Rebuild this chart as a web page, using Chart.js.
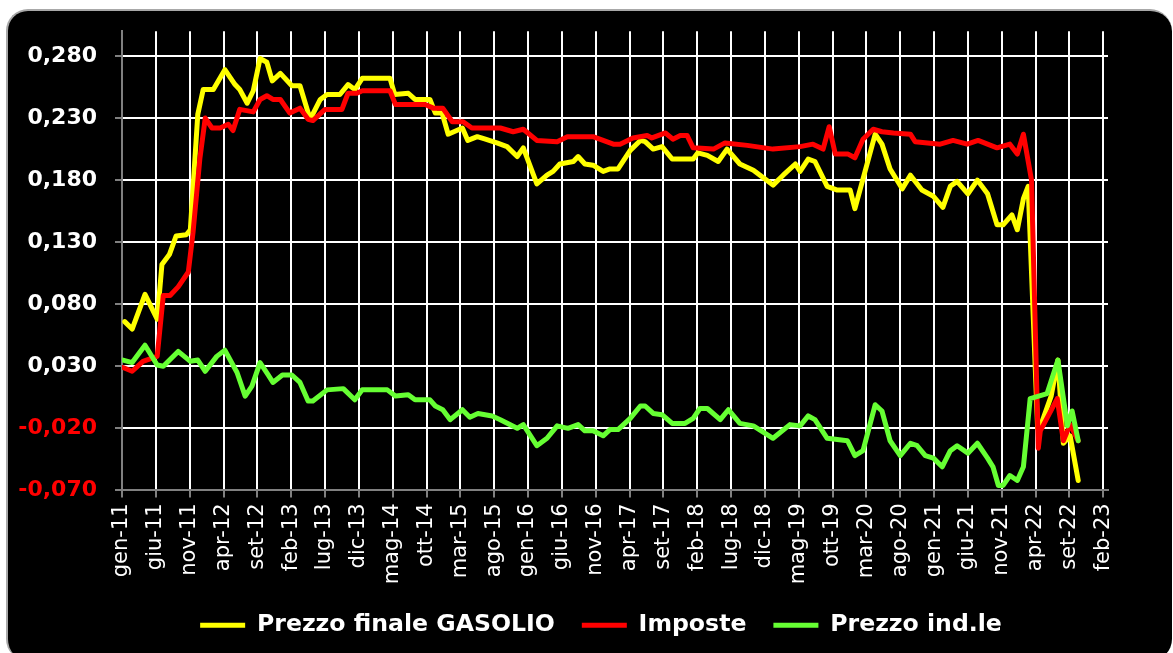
<!DOCTYPE html>
<html>
<head>
<meta charset="utf-8">
<script src="https://cdn.jsdelivr.net/npm/chart.js@4.4.1/dist/chart.umd.min.js"></script>
<style>
  html, body { margin: 0; padding: 0; background: #ffffff; width: 1173px; height: 653px; overflow: hidden; }
  #panel { position: absolute; left: 6px; top: 9px; width: 1166px; height: 652px; background: #000000;
           border-radius: 22px; border-top: 2px solid #a8a8a8; border-left: 2px solid #a8a8a8; box-sizing: border-box; }
  #c { position: absolute; left: 0; top: 0; }
</style>
</head>
<body>
<div id="panel"></div>
<canvas id="c" width="1173" height="653"></canvas>
<script>
// X tick labels (every 5 months starting gen-11)
const tickLabels = ['gen-11','giu-11','nov-11','apr-12','set-12','feb-13','lug-13','dic-13','mag-14','ott-14',
  'mar-15','ago-15','gen-16','giu-16','nov-16','apr-17','set-17','feb-18','lug-18','dic-18',
  'mag-19','ott-19','mar-20','ago-20','gen-21','giu-21','nov-21','apr-22','set-22','feb-23'];
// Y tick values
const yTickValues = [-0.07, -0.02, 0.03, 0.08, 0.13, 0.18, 0.23, 0.28];

// Series: x = months since gen-11, y = value
const gasolioX = [0.4,1.5,3.4,5.2,5.9,7.0,8.0,9.5,10.1,11.2,12.0,13.5,15.2,16.7,17.4,18.5,19.4,20.4,21.4,22.2,23.4,25.1,26.3,27.8,29.3,30.3,32.2,33.4,34.4,35.5,39.6,40.3,42.3,43.3,45.5,46.3,47.3,48.2,50.3,51.1,52.5,53.7,55.4,56.9,58.4,59.3,61.3,62.8,63.7,64.7,66.7,67.4,68.4,69.6,71.1,72.1,73.3,75.1,76.6,77.3,78.5,79.8,81.3,83.2,84.4,85.1,86.5,88.1,89.4,91.3,93.3,96.2,97.7,99.5,100.2,101.4,102.4,104.2,105.7,107.6,108.3,109.8,111.3,112.3,113.5,115.3,116.5,118.2,119.9,121.3,122.4,123.4,125.0,126.4,127.9,129.3,130.2,131.5,132.3,133.2,133.9,135.3,136.0,137.3,138.3,139.1,140.1,141.3];
const gasolioY = [0.066,0.060,0.088,0.068,0.112,0.120,0.135,0.136,0.140,0.233,0.253,0.253,0.269,0.257,0.253,0.242,0.252,0.278,0.275,0.260,0.266,0.256,0.256,0.229,0.245,0.249,0.249,0.257,0.253,0.262,0.262,0.249,0.250,0.245,0.245,0.234,0.234,0.217,0.222,0.212,0.215,0.213,0.210,0.207,0.199,0.206,0.177,0.184,0.187,0.193,0.195,0.199,0.193,0.192,0.187,0.189,0.189,0.204,0.212,0.211,0.205,0.207,0.197,0.197,0.197,0.202,0.200,0.195,0.205,0.193,0.188,0.176,0.184,0.193,0.187,0.197,0.195,0.175,0.172,0.172,0.157,0.187,0.217,0.209,0.189,0.173,0.184,0.172,0.167,0.158,0.175,0.179,0.169,0.180,0.169,0.144,0.144,0.152,0.140,0.165,0.175,-0.020,-0.014,0.006,0.035,-0.032,-0.026,-0.062];

const imposteX = [0.15,1.5,3.1,5.2,6.1,7.1,8.3,9.8,10.5,11.5,12.3,13.3,14.5,15.7,16.4,17.4,19.4,20.4,21.4,22.3,23.4,24.8,26.3,27.5,28.2,30.0,32.5,33.4,34.7,35.5,39.6,40.4,44.8,46.0,47.4,48.8,50.4,51.7,55.9,57.8,59.3,61.3,64.3,65.8,69.6,72.6,73.6,75.5,77.6,78.3,80.3,81.4,82.5,83.5,84.4,87.4,89.1,92.4,96.2,100.2,102.1,103.6,104.5,105.4,107.3,108.3,109.5,111.0,112.3,114.0,116.5,117.2,120.9,122.8,124.9,126.5,129.3,131.2,132.3,133.2,134.4,135.4,135.7,138.2,139.1,140.1,141.3];
const imposteY = [0.029,0.026,0.034,0.038,0.087,0.087,0.094,0.106,0.138,0.197,0.230,0.222,0.222,0.225,0.220,0.237,0.235,0.245,0.248,0.245,0.245,0.234,0.238,0.229,0.228,0.237,0.237,0.250,0.250,0.252,0.252,0.241,0.241,0.238,0.238,0.227,0.227,0.222,0.222,0.219,0.221,0.212,0.211,0.215,0.215,0.209,0.209,0.214,0.216,0.214,0.218,0.213,0.216,0.216,0.206,0.205,0.210,0.208,0.205,0.207,0.209,0.205,0.223,0.201,0.201,0.198,0.213,0.221,0.219,0.218,0.217,0.211,0.209,0.212,0.209,0.212,0.206,0.209,0.201,0.217,0.180,-0.036,-0.022,0.004,-0.030,-0.017,-0.030];

const industrialeX = [0.15,1.5,3.4,5.2,6.1,8.3,10.1,11.2,12.3,14.0,15.2,17.0,18.2,19.2,20.4,21.6,22.3,23.7,25.1,26.3,27.5,28.2,30.3,32.7,34.4,35.5,39.2,40.4,42.3,43.3,45.5,46.3,47.4,48.5,50.3,51.4,52.6,54.7,55.9,58.4,59.3,61.3,62.8,64.3,65.9,67.4,68.4,69.6,71.1,72.1,73.3,75.1,76.6,77.3,78.5,79.8,81.3,83.2,84.4,85.4,86.5,88.4,89.6,91.3,93.3,96.2,98.7,100.2,101.4,102.4,104.2,107.2,108.3,109.5,111.3,112.3,113.5,115.0,116.5,117.5,118.7,119.9,121.2,122.4,123.4,125.0,126.4,127.9,128.7,129.5,130.2,131.2,132.3,133.2,134.2,136.7,138.3,139.7,140.4,141.3];
const industrialeY = [0.035,0.033,0.047,0.031,0.030,0.042,0.034,0.035,0.026,0.038,0.043,0.025,0.006,0.014,0.033,0.023,0.017,0.023,0.023,0.017,0.002,0.002,0.011,0.012,0.003,0.011,0.011,0.006,0.007,0.003,0.003,-0.002,-0.005,-0.013,-0.005,-0.011,-0.008,-0.010,-0.013,-0.020,-0.017,-0.034,-0.028,-0.018,-0.020,-0.017,-0.022,-0.022,-0.026,-0.021,-0.021,-0.012,-0.002,-0.002,-0.008,-0.009,-0.016,-0.016,-0.012,-0.004,-0.004,-0.013,-0.005,-0.016,-0.018,-0.028,-0.017,-0.018,-0.010,-0.013,-0.028,-0.030,-0.042,-0.038,-0.001,-0.006,-0.030,-0.042,-0.032,-0.034,-0.042,-0.044,-0.051,-0.038,-0.034,-0.040,-0.032,-0.044,-0.051,-0.066,-0.066,-0.058,-0.062,-0.051,0.004,0.008,0.035,-0.018,-0.006,-0.030];

const FONT = 'DejaVu Sans';
const pts = (xs, ys) => xs.map((x, i) => ({ x: x, y: ys[i] }));

// shifts the legend block slightly left, as in the original
const legendShift = { id: 'legendShift', afterLayout(chart) { const l = chart.legend; if (l) { l.left -= 14; l.right -= 14; } } };

const gridOpts = { display: true, drawOnChartArea: true, drawTicks: true, color: '#ffffff', lineWidth: 2, tickColor: '#808080', tickLength: 7, tickWidth: 2 };
const borderOpts = { display: true, color: '#808080', width: 2 };

new Chart(document.getElementById('c'), {
  type: 'line',
  plugins: [legendShift],
  data: {
    datasets: [
      { label: 'Prezzo finale GASOLIO', data: pts(gasolioX, gasolioY), borderColor: '#ffff00', backgroundColor: '#ffff00', order: 3 },
      { label: 'Imposte', data: pts(imposteX, imposteY), borderColor: '#ff0000', backgroundColor: '#ff0000', order: 2 },
      { label: 'Prezzo ind.le', data: pts(industrialeX, industrialeY), borderColor: '#66ff33', backgroundColor: '#66ff33', order: 1 }
    ]
  },
  options: {
    responsive: false,
    animation: false,
    datasets: { line: { borderWidth: 5, pointRadius: 0, tension: 0, borderJoinStyle: 'round', borderCapStyle: 'round' } },
    layout: { padding: { left: 0, top: 31, right: 65, bottom: 6 } },
    plugins: {
      tooltip: { enabled: false },
      legend: {
        display: true,
        position: 'bottom',
        fullSize: false,
        labels: {
          color: '#ffffff',
          font: { family: FONT, size: 23.6, weight: 'bold' },
          boxWidth: 45, boxHeight: 5, padding: 27,
          generateLabels: (chart) => Chart.defaults.plugins.legend.labels.generateLabels(chart).map(l => Object.assign(l, { lineWidth: 0 })),
          sort: (a, b) => a.datasetIndex - b.datasetIndex
        }
      }
    },
    scales: {
      x: {
        type: 'linear', min: 0, max: 145.7,
        afterBuildTicks: (s) => { s.ticks = tickLabels.map((_, i) => ({ value: i * 5 })); },
        afterFit: (s) => { s.height = 96; },
        ticks: { display: true, color: '#ffffff', font: { family: FONT, size: 21 }, autoSkip: false, minRotation: 90, maxRotation: 90, padding: 6,
                 callback: (v, i) => tickLabels[i] },
        grid: gridOpts,
        border: borderOpts
      },
      y: {
        min: -0.07, max: 0.30,
        afterBuildTicks: (s) => { s.ticks = yTickValues.map(v => ({ value: v })); },
        afterFit: (s) => { s.width = 122; },
        ticks: { display: true, color: (c) => (c.tick && c.tick.value < 0 ? '#ff0000' : '#ffffff'), font: { family: FONT, size: 22, weight: 'bold' }, padding: 18,
                 callback: (v) => v.toFixed(3).replace('.', ',') },
        grid: gridOpts,
        border: borderOpts
      }
    }
  }
});
</script>
</body>
</html>
